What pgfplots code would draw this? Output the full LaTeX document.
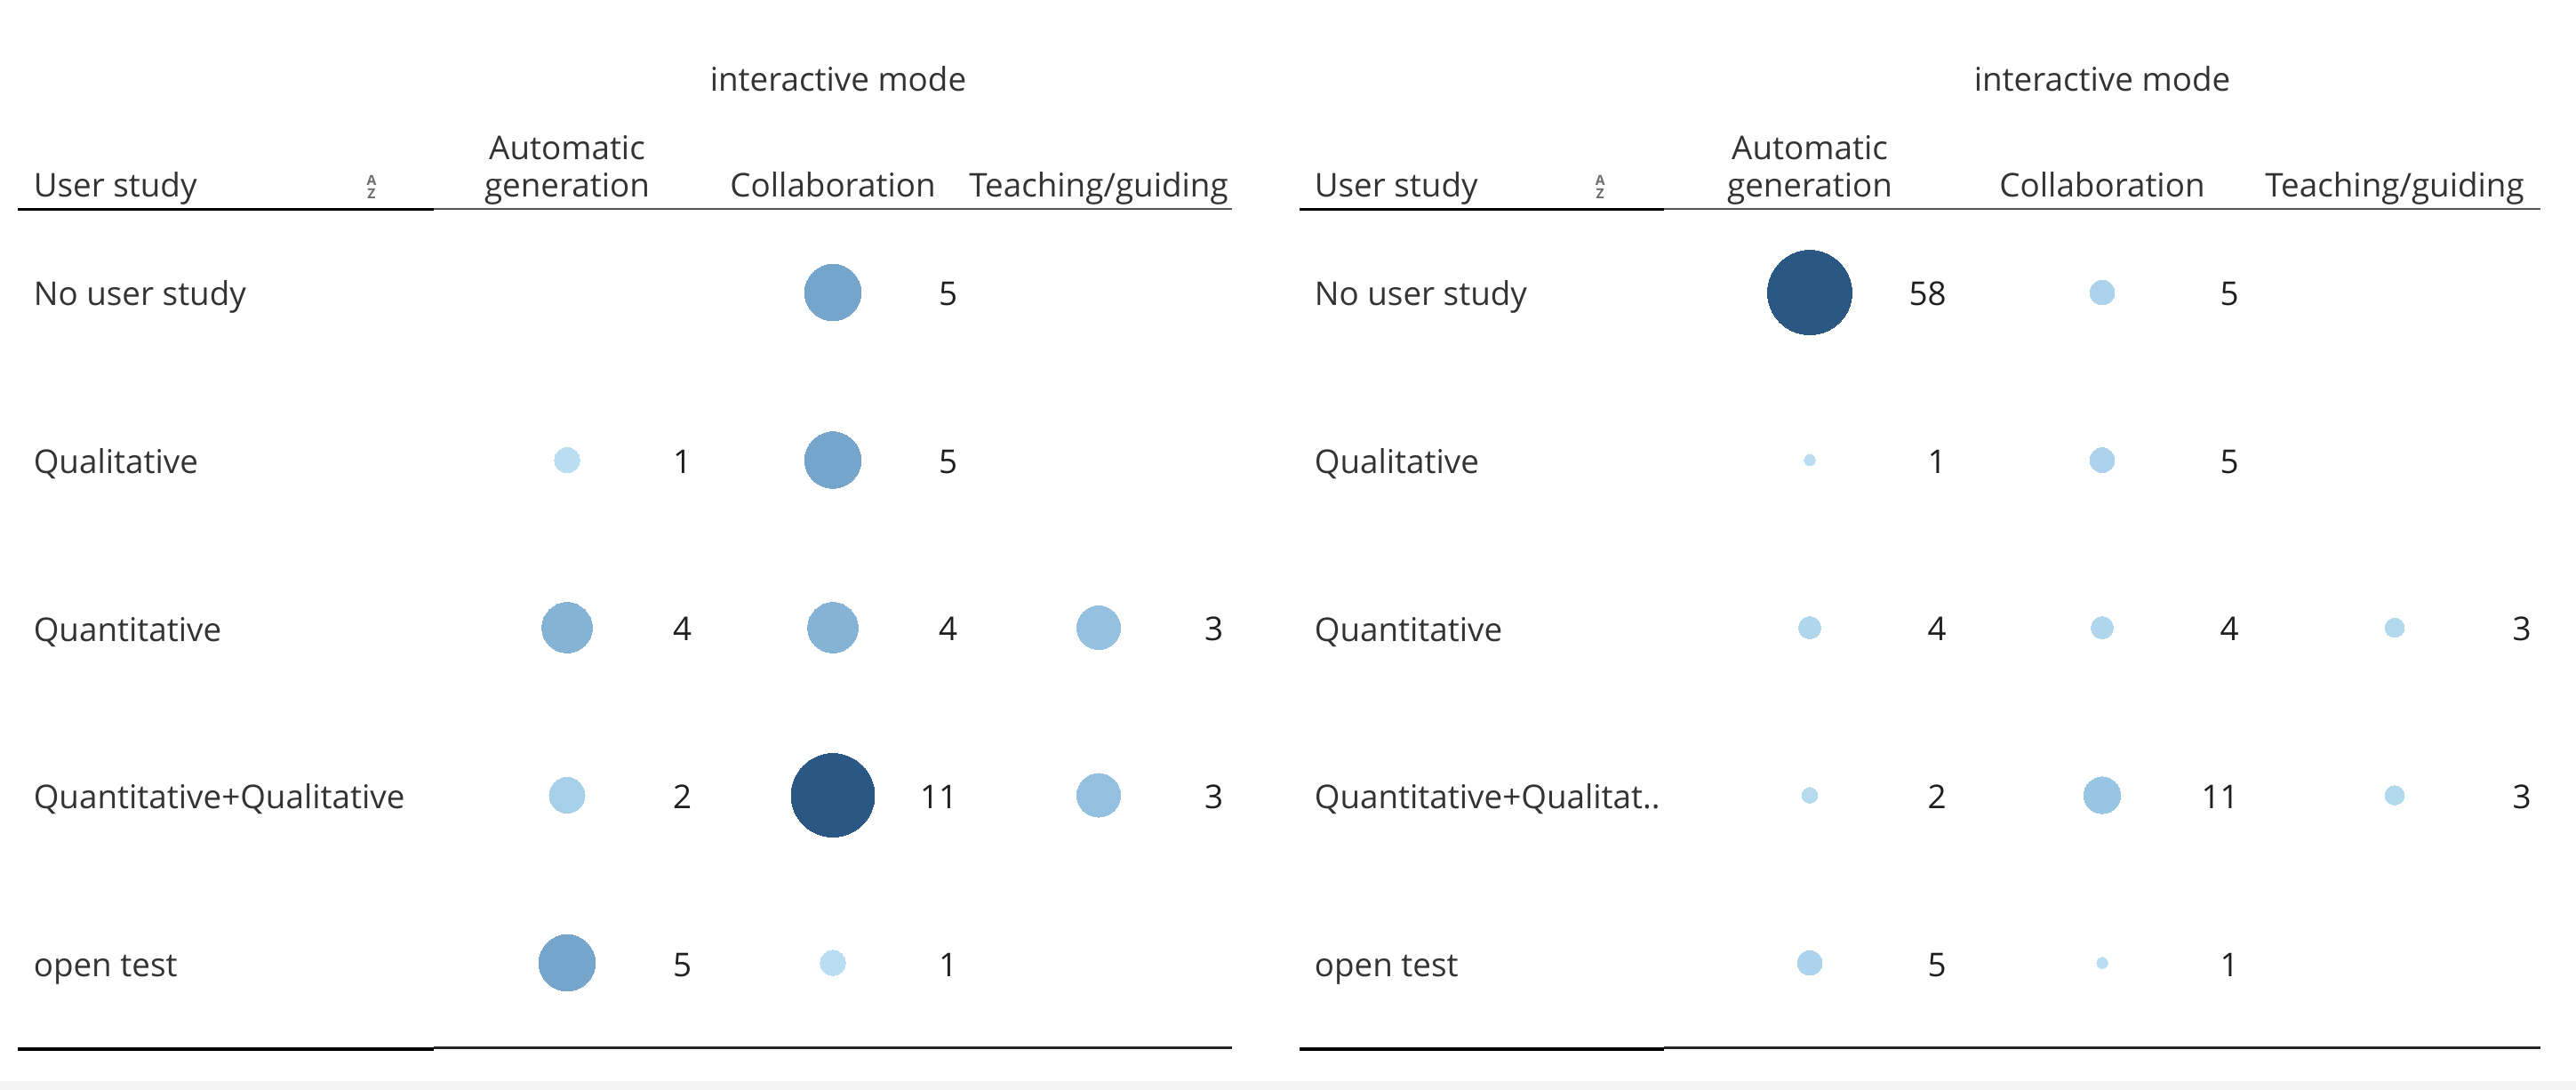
\documentclass[border=0pt]{standalone}
\usepackage{fontspec}
\setmainfont{Open Sans}
\usepackage{pgfplots}
\pgfplotsset{compat=1.18}
\usepackage{pgfplotstable}

\definecolor{txt}{HTML}{333333}
\definecolor{num}{HTML}{1E1E1E}
\definecolor{strip}{HTML}{F3F3F3}
\definecolor{azc}{HTML}{6E6E6E}
\definecolor{rule}{HTML}{555555}

\newcommand\f{\fontsize{9.2pt}{11pt}\selectfont}
\newcommand\az{\fontsize{3.9pt}{4pt}\selectfont\bfseries}

\pgfplotsset{
  /pgf/number format/assume math mode=true,
  colormap={tabblue}{rgb255(0cm)=(185,221,241) rgb255(4cm)=(146,192,223) rgb255(9cm)=(106,155,195) rgb255(14cm)=(72,120,166) rgb255(19cm)=(42,87,131)},
  panel/.style={
    scale only axis, width=362.25pt, height=306.5pt,
    anchor=south west,
    y dir=reverse, ymin=-1.7454, ymax=4.7586,
    hide axis, clip=false,
    colormap name=tabblue,
  },
}

\pgfplotstableread{
x y v
1 0 5
0 1 1
1 1 5
0 2 4
1 2 4
2 2 3
0 3 2
1 3 11
2 3 3
0 4 5
1 4 1
}\leftdata

\pgfplotstableread{
x y v
0 0 58
1 0 5
0 1 1
1 1 5
0 2 4
1 2 4
2 2 3
0 3 2
1 3 11
2 3 3
0 4 5
1 4 1
}\rightdata

\begin{document}
\begin{tikzpicture}[every node/.style={inner sep=0pt}]
\fill[white] (0,0) rectangle (724.5pt,306.5pt);
\fill[strip] (0,0) rectangle (724.5pt,2.5pt);

% ---------------- left panel ----------------
\begin{axis}[panel, at={(0,0)},
  xmin=-2.1338, xmax=2.7124,
  point meta min=1, point meta max=11]
\addplot[scatter, only marks, mark=*,
  point meta=\thisrow{v},
  mark options={line width=0pt},
  scatter/use mapped color={draw=mapped color, fill=mapped color, line width=0pt},
  visualization depends on={3.54*sqrt(\thisrow{v}) \as \msize},
  scatter/@pre marker code/.append style={/tikz/mark size=\msize}
] table[x=x, y=y] {\leftdata};
\addplot[only marks, mark=none, point meta=\thisrow{v},
  nodes near coords,
  every node near coord/.append style={anchor=base east, xshift=35.25pt, yshift=-3.75pt, font=\f, text=num, inner sep=0pt}
] table[x=x, y=y] {\leftdata};

\node[anchor=base, font=\f, text=txt] at (axis cs:1.020,-1.204) {interactive mode};
\node[anchor=base west, font=\f, text=txt] at (axis cs:-2.010,-0.57) {User study};
\node[font=\az, text=azc] at (axis cs:-0.7358,-0.671) {A};
\node[font=\az, text=azc] at (axis cs:-0.7358,-0.589) {Z};
\node[anchor=base, font=\f, text=txt] at (axis cs:0,-0.795) {Automatic};
\node[anchor=base, font=\f, text=txt] at (axis cs:0,-0.57) {generation};
\node[anchor=base, font=\f, text=txt] at (axis cs:1,-0.57) {Collaboration};
\node[anchor=base, font=\f, text=txt] at (axis cs:2,-0.57) {Teaching/guiding};

\draw[line width=0.75pt, black] (axis cs:-2.0669,-0.496) -- (axis cs:-0.5017,-0.496);
\draw[line width=0.35pt, rule] (axis cs:-0.5017,-0.4987) -- (axis cs:2.5017,-0.4987);

\node[anchor=base west, font=\f, text=txt] at (axis cs:-2.010,0.0796) {No user study};
\node[anchor=base west, font=\f, text=txt] at (axis cs:-2.010,1.0796) {Qualitative};
\node[anchor=base west, font=\f, text=txt] at (axis cs:-2.010,2.0796) {Quantitative};
\node[anchor=base west, font=\f, text=txt] at (axis cs:-2.010,3.0796) {Quantitative+Qualitative};
\node[anchor=base west, font=\f, text=txt] at (axis cs:-2.010,4.0796) {open test};

\draw[line width=0.8pt, black] (axis cs:-2.0669,4.515) -- (axis cs:-0.5017,4.515);
\draw[line width=0.7pt, black!85] (axis cs:-0.5017,4.507) -- (axis cs:2.5017,4.507);
\end{axis}

% ---------------- right panel ----------------
\begin{axis}[panel, at={(362.25pt,0)},
  xmin=-1.7842, xmax=2.6201,
  point meta min=1, point meta max=58]
\addplot[scatter, only marks, mark=*,
  point meta=\thisrow{v},
  mark options={line width=0pt},
  scatter/use mapped color={draw=mapped color, fill=mapped color, line width=0pt},
  visualization depends on={1.559*sqrt(\thisrow{v}) \as \msize},
  scatter/@pre marker code/.append style={/tikz/mark size=\msize}
] table[x=x, y=y] {\rightdata};
\addplot[only marks, mark=none, point meta=\thisrow{v},
  nodes near coords,
  every node near coord/.append style={anchor=base east, xshift=38.6pt, yshift=-3.75pt, font=\f, text=num, inner sep=0pt}
] table[x=x, y=y] {\rightdata};

\node[anchor=base, font=\f, text=txt] at (axis cs:1.0,-1.204) {interactive mode};
\node[anchor=base west, font=\f, text=txt] at (axis cs:-1.696,-0.57) {User study};
\node[font=\az, text=azc] at (axis cs:-0.717,-0.671) {A};
\node[font=\az, text=azc] at (axis cs:-0.717,-0.589) {Z};
\node[anchor=base, font=\f, text=txt] at (axis cs:0,-0.795) {Automatic};
\node[anchor=base, font=\f, text=txt] at (axis cs:0,-0.57) {generation};
\node[anchor=base, font=\f, text=txt] at (axis cs:1,-0.57) {Collaboration};
\node[anchor=base, font=\f, text=txt] at (axis cs:2,-0.57) {Teaching/guiding};

\draw[line width=0.75pt, black] (axis cs:-1.7447,-0.496) -- (axis cs:-0.4985,-0.496);
\draw[line width=0.35pt, rule] (axis cs:-0.4985,-0.4987) -- (axis cs:2.4985,-0.4987);

\node[anchor=base west, font=\f, text=txt] at (axis cs:-1.696,0.0796) {No user study};
\node[anchor=base west, font=\f, text=txt] at (axis cs:-1.696,1.0796) {Qualitative};
\node[anchor=base west, font=\f, text=txt] at (axis cs:-1.696,2.0796) {Quantitative};
\node[anchor=base west, font=\f, text=txt] at (axis cs:-1.696,3.0796) {Quantitative+Qualitat..};
\node[anchor=base west, font=\f, text=txt] at (axis cs:-1.696,4.0796) {open test};

\draw[line width=0.8pt, black] (axis cs:-1.7447,4.515) -- (axis cs:-0.4985,4.515);
\draw[line width=0.7pt, black!85] (axis cs:-0.4985,4.507) -- (axis cs:2.4985,4.507);
\end{axis}
\end{tikzpicture}
\end{document}
